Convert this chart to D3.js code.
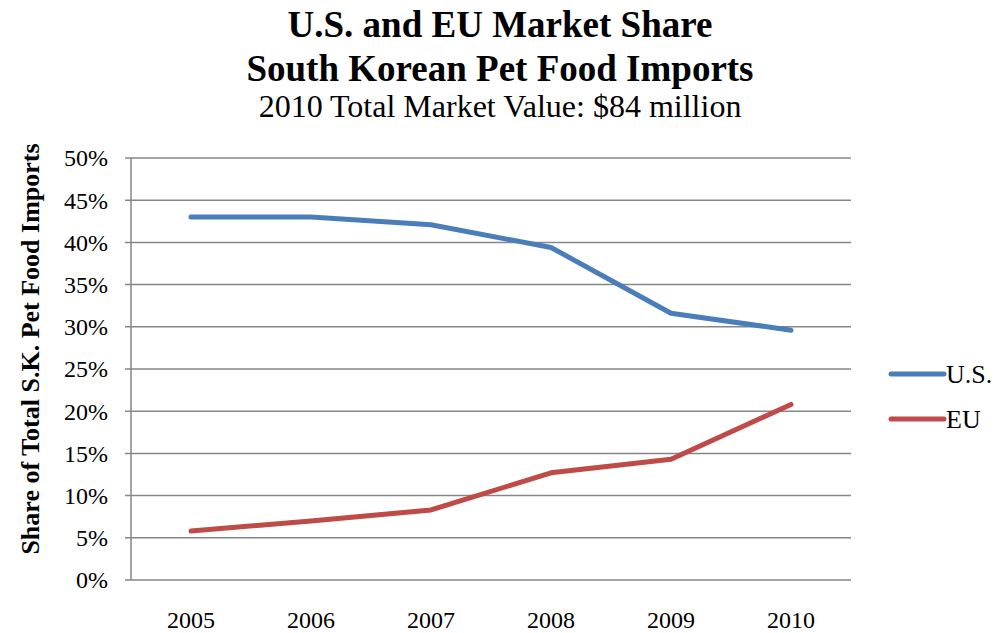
<!DOCTYPE html>
<html>
<head>
<meta charset="utf-8">
<script src="https://cdn.jsdelivr.net/npm/d3@7"></script>
<style>
  body { margin: 0; background: #fff; }
  svg text { font-family: "Liberation Serif", "Times New Roman", serif; fill: #000; }
</style>
</head>
<body>
<div id="chart"></div>
<script>
// data
const years = ["2005", "2006", "2007", "2008", "2009", "2010"]
const usShare = [43.0, 43.0, 42.1, 39.4, 31.6, 29.6]
const euShare = [5.8, 7.0, 8.3, 12.7, 14.3, 20.8]
const yTicks = [0, 5, 10, 15, 20, 25, 30, 35, 40, 45, 50]

const seriesList = [
    {name: "U.S.", values: usShare, color: "#4a7ebb"},
    {name: "EU", values: euShare, color: "#be4b48"}
]

const W = 1001, H = 633
const margin = {top: 158, right: 150, bottom: 53, left: 131}
const width = W - margin.left - margin.right
const height = H - margin.top - margin.bottom

const svg = d3.select("#chart").append("svg")
    .attr("width", W)
    .attr("height", H)

// titles
svg.append("text").attr("x", 500).attr("y", 37)
    .attr("text-anchor", "middle").attr("font-size", "37px").attr("font-weight", "bold")
    .text("U.S. and EU Market Share")
svg.append("text").attr("x", 500).attr("y", 81)
    .attr("text-anchor", "middle").attr("font-size", "37px").attr("font-weight", "bold")
    .text("South Korean Pet Food Imports")
svg.append("text").attr("x", 500).attr("y", 117)
    .attr("text-anchor", "middle").attr("font-size", "32px")
    .text("2010 Total Market Value: $84 million")

const g = svg.append("g")
    .attr("transform", `translate(${margin.left},${margin.top})`)

const x = d3.scaleBand().domain(years).range([0, width])
const y = d3.scaleLinear().domain([0, 50]).range([height, 0])

// gridlines
g.append("g")
    .selectAll("line")
    .data(yTicks)
    .join("line")
    .attr("x1", -6).attr("x2", width)
    .attr("y1", d => y(d)).attr("y2", d => y(d))
    .attr("stroke", "#868686").attr("stroke-width", 1.5)

// left axis line
g.append("line")
    .attr("x1", 0).attr("x2", 0).attr("y1", 0).attr("y2", height)
    .attr("stroke", "#868686").attr("stroke-width", 1.5)

// y tick labels
g.append("g")
    .selectAll("text")
    .data(yTicks)
    .join("text")
    .attr("x", -23)
    .attr("y", d => y(d))
    .attr("dy", "0.35em")
    .attr("text-anchor", "end")
    .attr("font-size", "24px")
    .text(d => d + "%")

// x tick labels
g.append("g")
    .selectAll("text")
    .data(years)
    .join("text")
    .attr("x", d => x(d) + x.bandwidth() / 2)
    .attr("y", height + 48)
    .attr("text-anchor", "middle")
    .attr("font-size", "24px")
    .text(d => d)

// y axis title
svg.append("text")
    .attr("transform", `translate(39,${margin.top + height / 2 - 20}) rotate(-90)`)
    .attr("text-anchor", "middle")
    .attr("font-size", "26px")
    .attr("font-weight", "bold")
    .text("Share of Total S.K. Pet Food Imports")

// lines
const line = d3.line()
    .x((d, i) => x(years[i]) + x.bandwidth() / 2)
    .y(d => y(d))

g.selectAll(".series")
    .data(seriesList)
    .join("path")
    .attr("class", "series")
    .attr("d", d => line(d.values))
    .attr("fill", "none")
    .attr("stroke", d => d.color)
    .attr("stroke-width", 5)
    .attr("stroke-linecap", "round")
    .attr("stroke-linejoin", "round")

// legend
const legend = svg.append("g")
    .selectAll("g")
    .data(seriesList)
    .join("g")
    .attr("transform", (d, i) => `translate(891,${374 + i * 45})`)
legend.append("line")
    .attr("x1", 0).attr("x2", 53)
    .attr("stroke", d => d.color)
    .attr("stroke-width", 5)
    .attr("stroke-linecap", "round")
legend.append("text")
    .attr("x", 55)
    .attr("dy", "0.35em")
    .attr("font-size", "26px")
    .text(d => d.name)
</script>
</body>
</html>
